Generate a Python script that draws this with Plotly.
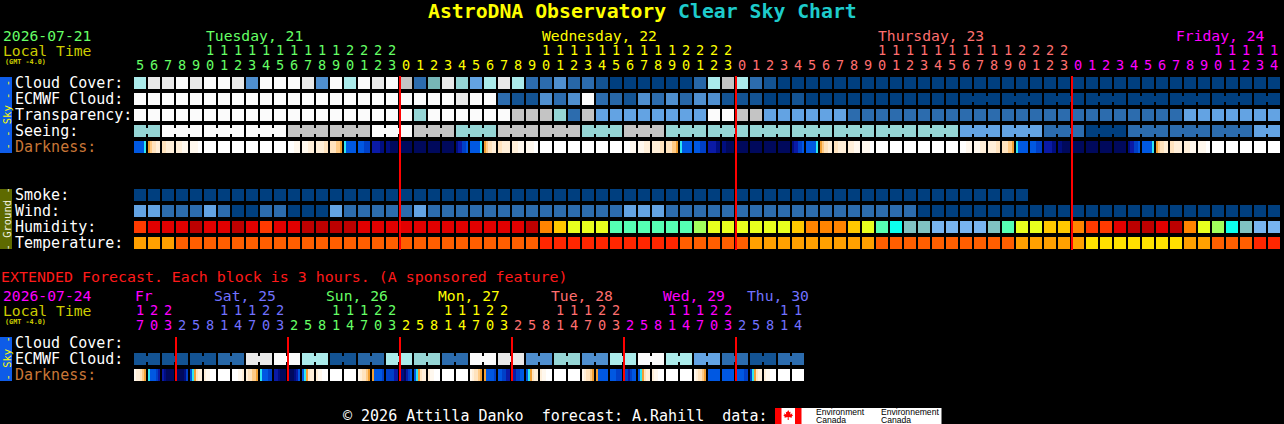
import plotly.graph_objects as go

# ======================= DATA =======================
title_left = "AstroDNA Observatory"
title_right = "Clear Sky Chart"
main_date = "2026-07-21"
ext_date = "2026-07-24"
local_time = "Local Time"
tz_label = "(GMT -4.0)"
ext_note = "EXTENDED Forecast. Each block is 3 hours. (A sponsored feature)"
footer_text = "© 2026 Attilla Danko  forecast: A.Rahill  data: "

main_days = ["Tuesday, 21", "Wednesday, 22", "Thursday, 23", "Friday, 24"]
main_day_colors = ["#66FF66", "#FFFF00", "#FF6F6F", "#FF00FF"]
main_hours = [
    [5, 6, 7, 8, 9, 10, 11, 12, 13, 14, 15, 16, 17, 18, 19, 20, 21, 22, 23],
    [0, 1, 2, 3, 4, 5, 6, 7, 8, 9, 10, 11, 12, 13, 14, 15, 16, 17, 18, 19, 20, 21, 22, 23],
    [0, 1, 2, 3, 4, 5, 6, 7, 8, 9, 10, 11, 12, 13, 14, 15, 16, 17, 18, 19, 20, 21, 22, 23],
    [0, 1, 2, 3, 4, 5, 6, 7, 8, 9, 10, 11, 12, 13, 14],
]

# per-hour colour levels (one character per hour block, one string per day)
cloud_cover = ["8aababba4bbba4b8bab", "9m6a758a8mm42m1000000289",
               "8m1000000000000000000000", "000000000000000"]
ecmwf_cloud = ["bbbbbbbbbbbbbbbbbbb", "bbbbabbm114m4bm214m42441",
               "110010000000000000000000", "000000000000000"]
transparency = ["bbbbbbbbbbbbbbbbbbb", "b7bbbbbb9997m955555555bb",
                "99555555mmmmmmmmmmmmmmmm", "mmmmmmmm5555555"]
seeing = ["77bbbbbbbbb999999bb", "b99977799999977799977777",
          "7777777777777777555555mm", "m000mmmmmmmmm55"]
smoke = ["0000000000000000000", "000000000000000000000000",
         "000000000000000000000   ", "               "]
wind = ["55mmm5m00mm0005mmmm", "m5mmmmmmmmmmmmmm555mmmmm",
        "mmmmmmmmmmmmm00000000000", "000000000000000"]
humidity = ["qrrrRrrRrqrrRRRRrrr", "rrrrrrrrrRogyyynnnnnnlyy",
            "yyyygooogyncttuuuutnyygg", "oqqrRRrRoylctuu"]
temperature = ["AAAOOOOOOOOOOOOOOOO", "OOOOOOOOOORRRRRRRRRROOOO",
               "OAAAAAAAAAOOOOOOOOOOAAAA", "AYYYYYYYAAOOORR"]

# darkness: six half-step samples per hour block
darkness = [
    ["BBBBBY", "OkCCcc", "CCcccc", "cccwww", "wwwwWW", "WWWWWW", "WWWWWW", "WWWWWW",
     "WWWWWW", "WWWWWW", "WWWWWW", "WWWwww", "wwwccc", "ccccCC", "CCCkkO", "YBBBBB",
     "BBBbbb", "ddddee", "eeNNNN"],
    ["NNNNNN", "NNNNNN", "NNNNNN", "NNNNNN", "eddbbB", "BBBBBY", "OkCCcc", "CCcccc",
     "cccwww", "wwwwWW", "WWWWWW", "WWWWWW", "WWWWWW", "WWWWWW", "WWWWWW", "WWWWWW",
     "WWWwww", "wwwccc", "ccccCC", "CCCkkO", "YBBBBB", "BBBbbb", "ddddee", "eeNNNN"],
    ["NNNNNN", "NNNNNN", "NNNNNN", "NNNNNN", "eddbbB", "BBBBBY", "OkCCcc", "CCcccc",
     "cccwww", "wwwwWW", "WWWWWW", "WWWWWW", "WWWWWW", "WWWWWW", "WWWWWW", "WWWWWW",
     "WWWwww", "wwwccc", "ccccCC", "CCCkkO", "YBBBBB", "BBBbbb", "ddddee", "eeNNNN"],
    ["NNNNNN", "NNNNNN", "NNNNNN", "NNNNNN", "eddbbB", "BBBBBY", "OkCCcc", "CCcccc",
     "cccwww", "wwwwWW", "WWWWWW", "WWWWWW", "WWWWWW", "WWWWWW", "WWWWWW"],
]

# joined forecast blocks (run lengths over the hour columns)
ecmwf_spans = [1] * 59 + [3] * 7 + [2]
seeing_spans = [2] + [3] * 26 + [2]

# ---- extended forecast (3-hour blocks) ----
ext_days = ["Fr", "Sat, 25", "Sun, 26", "Mon, 27", "Tue, 28", "Wed, 29", "Thu, 30"]
ext_day_colors = ["#FF00FF", "#7272FF", "#66FF66", "#FFFF00", "#FF6F6F", "#FF00FF", "#7272FF"]
ext_hours = [
    [17, 20, 23],
    [2, 5, 8, 11, 14, 17, 20, 23],
    [2, 5, 8, 11, 14, 17, 20, 23],
    [2, 5, 8, 11, 14, 17, 20, 23],
    [2, 5, 8, 11, 14, 17, 20, 23],
    [2, 5, 8, 11, 14, 17, 20, 23],
    [2, 5, 8, 11, 14],
]
ext_ecmwf = ["111", "11122aab", "b8811228", "877mmbba", "a4477448", "8bb8855m", "m11mm"]
ext_darkness = [
    ["wccCkO", "YBBBbd", "deNNNN"],
    ["NNNNeb", "BYOCcc", "cwwWWW", "WWWWWW", "WWWwwc", "cCCkkO", "YBBBbb", "ddeNNN"],
    ["NNNedB", "BYOCcc", "cwwWWW", "WWWWWW", "WWWWWW", "wcCCkO", "OBBBBb", "bbbbdd"],
    ["eeNdbB", "BYOCcc", "cwwWWW", "WWWWWW", "WWWWWW", "wcCCkO", "OBBBBb", "BBbbdd"],
    ["ddbbBB", "BYOCcc", "cwwWWW", "WWWWWW", "WWWWWW", "wcCCkO", "OBBBBB", "BBBbbb"],
    ["bbdbBB", "BYOCcc", "cwwWWW", "WWWWWW", "WWWWWW", "wcCCkO", "BBBBBB", "BBBBBB"],
    ["BBBBbb", "bYOCcc", "cwwWWW", "WWWWWW", "WWWWWW"],
]
ext_ecmwf_spans = [2] * 24

# ======================= STYLE =======================
SKY = {'0': '#003F7F', '1': '#135393', '2': '#2767A7', 'm': '#2C6CAE', '3': '#3B7BBB',
       '4': '#4F8FCF', '5': '#63A3E3', '6': '#77B7B7', '7': '#95D5D5', '8': '#ABEBEB',
       '9': '#C4C4C4', 'a': '#E9E9E9', 'b': '#FBFBFB'}
DARK = {'W': '#FFFFFF', 'w': '#FFF8EE', 'c': '#FFEFD9', 'C': '#FFE3BE', 'k': '#FFCB85',
        'O': '#F2A033', 'Y': '#2EE6F2', 'B': '#0058E2', 'b': '#0040C8', 'd': '#0A1AA6',
        'e': '#000E80', 'N': '#00095C'}
HUM = {'R': '#BC0000', 'r': '#E20000', 'q': '#FF3A00', 'o': '#FF8400', 'g': '#FFC800',
       'y': '#E8FF1E', 'l': '#A2FF5C', 'n': '#55FFB4', 'c': '#0CFFEE', 't': '#80C2C2',
       'u': '#78B4F0'}
TEMP = {'A': '#FFA000', 'O': '#FF5E00', 'R': '#FF2600', 'Y': '#FFE000'}

W, H = 1284, 424
LEFT, PITCH, BLOCK, GAP = 134, 14, 12, 2
ROW = 16
MAIN_TOP = 77
GROUND_TOP = 189
EXT_TOP = 337
MONO = "DejaVu Sans Mono"
FS = 14.7
FS_DIGIT = 13.6


def cat(parts):
    return "".join(parts)


def flat(parts):
    out = []
    for p in parts:
        out.extend(p)
    return out


n_main = sum(len(h) for h in main_hours)
n_ext = sum(len(h) for h in ext_hours)
for r in (cloud_cover, ecmwf_cloud, transparency, seeing, smoke, wind, humidity, temperature):
    assert len(cat(r)) == n_main, (r, len(cat(r)))
assert len(flat(darkness)) == n_main
assert len(cat(ext_ecmwf)) == n_ext and len(flat(ext_darkness)) == n_ext

fig = go.Figure()


def px2x(px):
    return (px - LEFT) / PITCH


def add_blocks(values, palette, top, spans=None):
    xs, cs = [], []
    for i, v in enumerate(values):
        if v == ' ':
            continue
        xs.append(i + BLOCK / (2 * PITCH))
        cs.append(palette[v])
    fig.add_trace(go.Bar(x=xs, y=[BLOCK] * len(xs), base=[top] * len(xs), width=BLOCK / PITCH,
                         marker=dict(color=cs, line=dict(width=0)), hoverinfo='skip'))
    if spans:
        cx, cc = [], []
        s = 0
        for L in spans:
            for k in range(s, s + L - 1):
                cx.append(k + (BLOCK + GAP / 2) / PITCH)
                cc.append(palette[values[k]])
            s += L
        fig.add_trace(go.Bar(x=cx, y=[6] * len(cx), base=[top + 3] * len(cx), width=GAP / PITCH + 0.02,
                             marker=dict(color=cc, line=dict(width=0)), hoverinfo='skip'))


def add_dark(blocks, top):
    xs, cs = [], []
    for i, b in enumerate(blocks):
        n = len(b)
        sw = BLOCK / n
        for k, ch in enumerate(b):
            xs.append(i + (k + 0.5) * sw / PITCH)
            cs.append(DARK[ch])
    fig.add_trace(go.Bar(x=xs, y=[BLOCK] * len(xs), base=[top] * len(xs), width=sw / PITCH + 0.004,
                         marker=dict(color=cs, line=dict(width=0)), hoverinfo='skip'))


# ---- main sky rows ----
add_blocks(cat(cloud_cover), SKY, MAIN_TOP)
add_blocks(cat(ecmwf_cloud), SKY, MAIN_TOP + ROW, ecmwf_spans)
add_blocks(cat(transparency), SKY, MAIN_TOP + 2 * ROW)
add_blocks(cat(seeing), SKY, MAIN_TOP + 3 * ROW, seeing_spans)
add_dark(flat(darkness), MAIN_TOP + 4 * ROW)
# ---- ground rows ----
add_blocks(cat(smoke), SKY, GROUND_TOP)
add_blocks(cat(wind), SKY, GROUND_TOP + ROW)
add_blocks(cat(humidity), HUM, GROUND_TOP + 2 * ROW)
add_blocks(cat(temperature), TEMP, GROUND_TOP + 3 * ROW)
# ---- extended ----
add_blocks(cat(ext_ecmwf), SKY, EXT_TOP + ROW, ext_ecmwf_spans)
add_dark(flat(ext_darkness), EXT_TOP + 2 * ROW)


# ---- midnight lines ----
def day_starts(hours):
    starts, c = [], 0
    for h in hours:
        starts.append(c)
        c += len(h)
    return starts[1:]


lx, ly = [], []
for s in day_starts(main_hours):
    lx += [s, s, None]
    ly += [MAIN_TOP - 1, GROUND_TOP + 3 * ROW + BLOCK + 1, None]
for s in day_starts(ext_hours):
    lx += [s, s, None]
    ly += [EXT_TOP, EXT_TOP + 2 * ROW + BLOCK, None]
fig.add_trace(go.Scatter(x=lx, y=ly, mode='lines', line=dict(color='#FF0000', width=2),
                         hoverinfo='skip'))


# ---- hour digits ----
def add_hour_digits(hours, colors, y_tens, y_units):
    xs, tt, uu, cc, xt, ct = [], [], [], [], [], []
    c = 0
    for d, hrs in enumerate(hours):
        for h in hrs:
            x = c + BLOCK / (2 * PITCH)
            xs.append(x)
            uu.append(str(h % 10))
            cc.append(colors[d])
            if h >= 10:
                xt.append(x)
                tt.append(str(h // 10))
                ct.append(colors[d])
            c += 1
    fig.add_trace(go.Scatter(x=xs, y=[y_units] * len(xs), mode='text', text=uu,
                             textfont=dict(family=MONO, size=FS_DIGIT, color=cc),
                             textposition='middle center', hoverinfo='skip'))
    fig.add_trace(go.Scatter(x=xt, y=[y_tens] * len(xt), mode='text', text=tt,
                             textfont=dict(family=MONO, size=FS_DIGIT, color=ct),
                             textposition='middle center', hoverinfo='skip'))


add_hour_digits(main_hours, main_day_colors, 51.5, 66.5)
add_hour_digits(ext_hours, ext_day_colors, 311.5, 326.5)

ann = []


def text(px, py, s, color, size=FS, anchor='left', bold=False, family=MONO, angle=0):
    if bold:
        s = "<b>" + s + "</b>"
    ann.append(dict(x=px / W, xref='paper', y=py, yref='y', text=s, showarrow=False,
                    xanchor=anchor, yanchor='middle', textangle=angle,
                    font=dict(family=family, size=size, color=color), borderpad=0))


# title
ann.append(dict(x=642 / W, xref='paper', y=11.5, yref='y', showarrow=False, xanchor='center',
                yanchor='middle', borderpad=0,
                text="<b><span style='color:#FFFF00'>" + title_left + "</span> "
                     "<span style='color:#1ECBCB'>" + title_right + "</span></b>",
                font=dict(family=MONO, size=19.8)))

# headers main
text(1.5, 35, main_date, "#66FF66")
text(1.5, 50.5, local_time, "#CCCC00")
text(4, 62, tz_label, "#CCCC00", size=6.8, bold=True)
MAIN_DAY_X = [205, 541, 877, 1175]
for lab, col, px in zip(main_days, main_day_colors, MAIN_DAY_X):
    text(px, 35, lab, col)

# row labels
sky_labels = ["Cloud Cover:", "ECMWF Cloud:", "Transparency:", "Seeing:", "Darkness:"]
for k, lab in enumerate(sky_labels):
    text(14, MAIN_TOP + k * ROW + 5.5, lab, "#C87737" if lab == "Darkness:" else "#FFFFFF", size=15)
ground_labels = ["Smoke:", "Wind:", "Humidity:", "Temperature:"]
for k, lab in enumerate(ground_labels):
    text(14, GROUND_TOP + k * ROW + 5.5, lab, "#FFFFFF", size=15)

# extended headers
text(0, 276.5, ext_note, "#FF1A1A", size=14.95)
text(1.5, 295, ext_date, "#FF00FF")
text(1.5, 310.5, local_time, "#CCCC00")
text(4, 322, tz_label, "#CCCC00", size=6.8, bold=True)
EXT_DAY_X = [134, 212.5, 324.5, 437, 549.5, 661.5, 745.5]
for lab, col, px in zip(ext_days, ext_day_colors, EXT_DAY_X):
    text(px, 295, lab, col)
ext_labels = ["Cloud Cover:", "ECMWF Cloud:", "Darkness:"]
for k, lab in enumerate(ext_labels):
    text(14, EXT_TOP + k * ROW + 5.5, lab, "#C87737" if lab == "Darkness:" else "#FFFFFF", size=15)

# side bars
shapes = []


def rect_px(x0, y0, x1, y1, color):
    shapes.append(dict(type='rect', xref='paper', yref='y', x0=x0 / W, x1=x1 / W, y0=y0, y1=y1,
                       fillcolor=color, line=dict(width=0), layer='below'))


rect_px(0, MAIN_TOP, 12, MAIN_TOP + 4 * ROW + BLOCK, "#0E5CE8")
rect_px(0, GROUND_TOP, 12, GROUND_TOP + 3 * ROW + BLOCK, "#5E6A00")
rect_px(0, EXT_TOP, 12, EXT_TOP + 2 * ROW + BLOCK, "#0E5CE8")
text(6.5, (MAIN_TOP * 2 + 4 * ROW + BLOCK) / 2, "- - Sky - -", "#FFFF00", size=10.5, anchor='center', angle=-90)
text(6.5, (GROUND_TOP * 2 + 3 * ROW + BLOCK) / 2, "- Ground -", "#F2F2E0", size=10.5, anchor='center', angle=-90)
text(6.5, (EXT_TOP * 2 + 2 * ROW + BLOCK) / 2, "- Sky -", "#FFFF00", size=10.5, anchor='center', angle=-90)

# footer
text(342, 416, footer_text.rstrip(), "#FFFFFF", size=15)
rect_px(775, 408, 941.5, 424, "#FFFFFF")
rect_px(775, 408, 781.5, 424, "#FF0000")
rect_px(795, 408, 801.5, 424, "#FF0000")
leaf = [(0, -5.5), (1.2, -3.2), (2.4, -3.8), (2.0, -1.0), (4.2, -2.2), (3.6, -0.8), (5.0, -0.4),
        (3.4, 1.2), (3.8, 2.2), (0.5, 1.6), (0.5, 4.5), (-0.5, 4.5), (-0.5, 1.6), (-3.8, 2.2),
        (-3.4, 1.2), (-5.0, -0.4), (-3.6, -0.8), (-4.2, -2.2), (-2.0, -1.0), (-2.4, -3.8), (-1.2, -3.2)]
path = "M " + " L ".join(f"{px2x(788.2 + a)},{415.5 + b}" for a, b in leaf) + " Z"
shapes.append(dict(type='path', xref='x', yref='y', path=path, fillcolor='#FF0000',
                   line=dict(width=0)))
text(815, 411.5, "Environment", "#000000", size=8.6, family="Liberation Sans")
text(815, 419.5, "Canada", "#000000", size=8.6, family="Liberation Sans")
text(880, 411.5, "Environnement", "#000000", size=8.6, family="Liberation Sans")
text(880, 419.5, "Canada", "#000000", size=8.6, family="Liberation Sans")

fig.update_layout(
    width=W, height=H, margin=dict(l=0, r=0, t=0, b=0),
    paper_bgcolor='#000000', plot_bgcolor='#000000',
    barmode='overlay', bargap=0, showlegend=False, hovermode=False,
    xaxis=dict(range=[px2x(0), px2x(W)], visible=False, fixedrange=True),
    yaxis=dict(range=[H, 0], visible=False, fixedrange=True),
    annotations=ann, shapes=shapes,
)

fig.write_html("out.html", config={'displayModeBar': False, 'staticPlot': True},
               post_script="document.body.style.margin='0';document.body.style.overflow='hidden';")
